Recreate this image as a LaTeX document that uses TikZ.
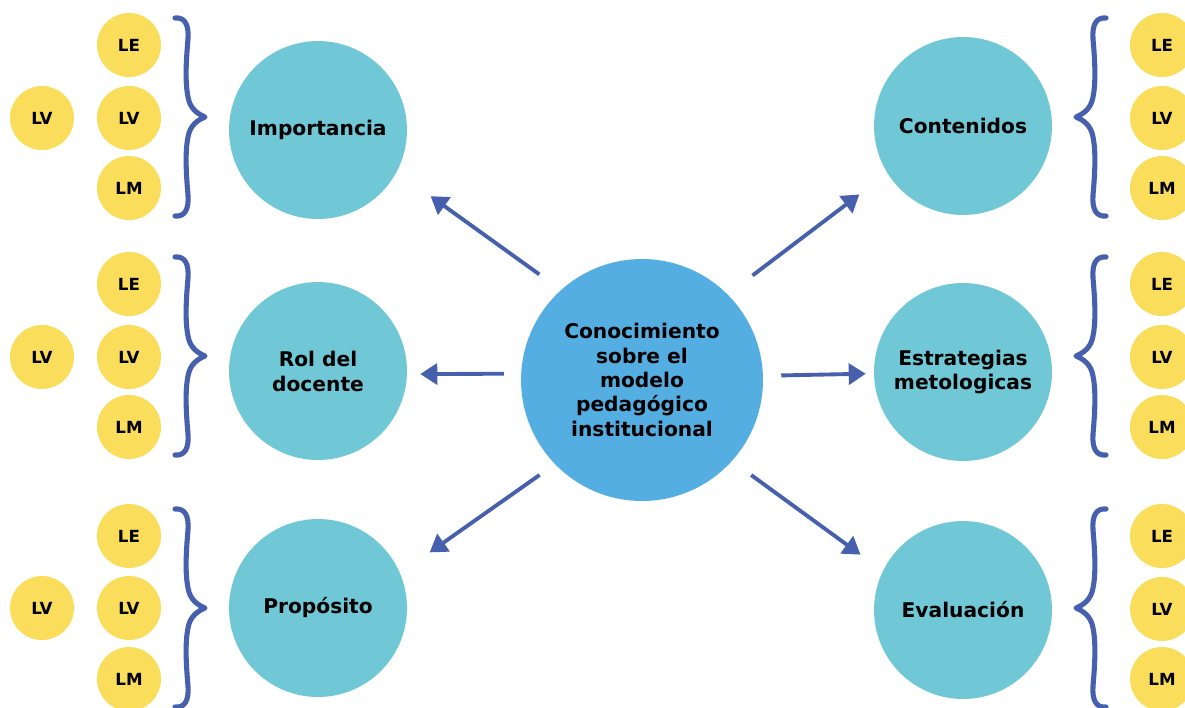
\documentclass[tikz,border=0pt]{standalone}
\usepackage{fontspec}
\setmainfont{DejaVu Sans}
\usetikzlibrary{arrows.meta}

\definecolor{hubblue}{HTML}{55AEE2}
\definecolor{topicteal}{HTML}{70C7D5}
\definecolor{leafyellow}{HTML}{FBDD5C}
\definecolor{linkblue}{HTML}{4760AE}

\tikzset{
  hub/.style={circle, fill=hubblue, minimum size=4.84cm, inner sep=0pt, align=center,
    font=\fontsize{11.5}{13.9}\selectfont\bfseries},
  topic/.style={circle, fill=topicteal, minimum size=3.56cm, inner sep=0pt, align=center,
    font=\fontsize{11.5}{14.2}\selectfont\bfseries},
  leaf/.style={circle, fill=leafyellow, minimum size=1.28cm, inner sep=0pt,
    font=\fontsize{9.5}{10}\selectfont\bfseries},
  link/.style={draw=linkblue, line width=2.2pt, -{Triangle[length=0.34cm,width=0.42cm]}},
  % curly brace, tip at the origin, opening to the left
  curly/.pic={
    \draw[linkblue, line width=2.9pt, line cap=round, line join=round]
      (-30,-99) .. controls (-20,-100) and (-16,-92) .. (-17,-78)
      .. controls (-19,-55) and (-20,-35) .. (-17,-20)
      .. controls (-15,-8) and (-7,-3) .. (0,0)
      .. controls (-7,3) and (-15,8) .. (-17,20)
      .. controls (-20,35) and (-19,55) .. (-17,78)
      .. controls (-16,92) and (-20,100) .. (-30,99);
  }
}

\begin{document}
\begin{tikzpicture}[x=0.02cm, y=-0.02cm, >=stealth]
    \useasboundingbox (0,0) rectangle (1185,707);

    % centre and the six topics
    \node[hub] (cen) at (642,380) {Conocimiento\\sobre el\\modelo\\pedagógico\\institucional};

    \node[topic] (imp) at (318,130) {Importancia};
    \node[topic] (rol) at (318,371) {Rol del\\docente};
    \node[topic] (pro) at (318,608) {Propósito};
    \node[topic] (con) at (963,126) {Contenidos};
    \node[topic] (est) at (963,372) {Estrategias\\metologicas};
    \node[topic] (eva) at (963,610) {Evaluación};

    \draw[link, shorten <=0.53cm, shorten >=0.83cm] (cen.132.3) -- (imp.-28.3);
    \draw[link, shorten <=0.34cm, shorten >=0.26cm] (cen.177.5) -- (rol.-2.2);
    \draw[link, shorten <=0.37cm, shorten >=0.72cm] (cen.224.7) -- (pro.23.1);
    \draw[link, shorten <=0.62cm, shorten >=0.70cm] (cen.45.8) -- (con.212.2);
    \draw[link, shorten <=0.36cm, shorten >=0.16cm] (cen.2.5) -- (est.181.2);
    \draw[link, shorten <=0.47cm, shorten >=0.55cm] (cen.-42.8) -- (eva.154.1);

    % left leaves
    \node[leaf] (imp-le) at (129,45) {LE};
    \node[leaf] (imp-lv) at (129,118) {LV};
    \node[leaf] (imp-lm) at (129,188) {LM};
    \node[leaf] (imp-lx) at (42,118) {LV};

    \node[leaf] (rol-le) at (129,284) {LE};
    \node[leaf] (rol-lv) at (129,357) {LV};
    \node[leaf] (rol-lm) at (129,427) {LM};
    \node[leaf] (rol-lx) at (42,357) {LV};

    \node[leaf] (pro-le) at (129,536) {LE};
    \node[leaf] (pro-lv) at (129,608) {LV};
    \node[leaf] (pro-lm) at (129,679) {LM};
    \node[leaf] (pro-lx) at (42,608) {LV};

    % right leaves
    \node[leaf] (con-le) at (1162,45) {LE};
    \node[leaf] (con-lv) at (1162,118) {LV};
    \node[leaf] (con-lm) at (1162,188) {LM};

    \node[leaf] (est-le) at (1162,284) {LE};
    \node[leaf] (est-lv) at (1162,357) {LV};
    \node[leaf] (est-lm) at (1162,427) {LM};

    \node[leaf] (eva-le) at (1162,536) {LE};
    \node[leaf] (eva-lv) at (1162,609) {LV};
    \node[leaf] (eva-lm) at (1162,679) {LM};

    % braces
    \pic at (205,117) {curly};
    \pic at (205,356) {curly};
    \pic at (205,608) {curly};
    \pic[xscale=-1] at (1076,117) {curly};
    \pic[xscale=-1] at (1076,356) {curly};
    \pic[xscale=-1] at (1076,608) {curly};
\end{tikzpicture}
\end{document}
